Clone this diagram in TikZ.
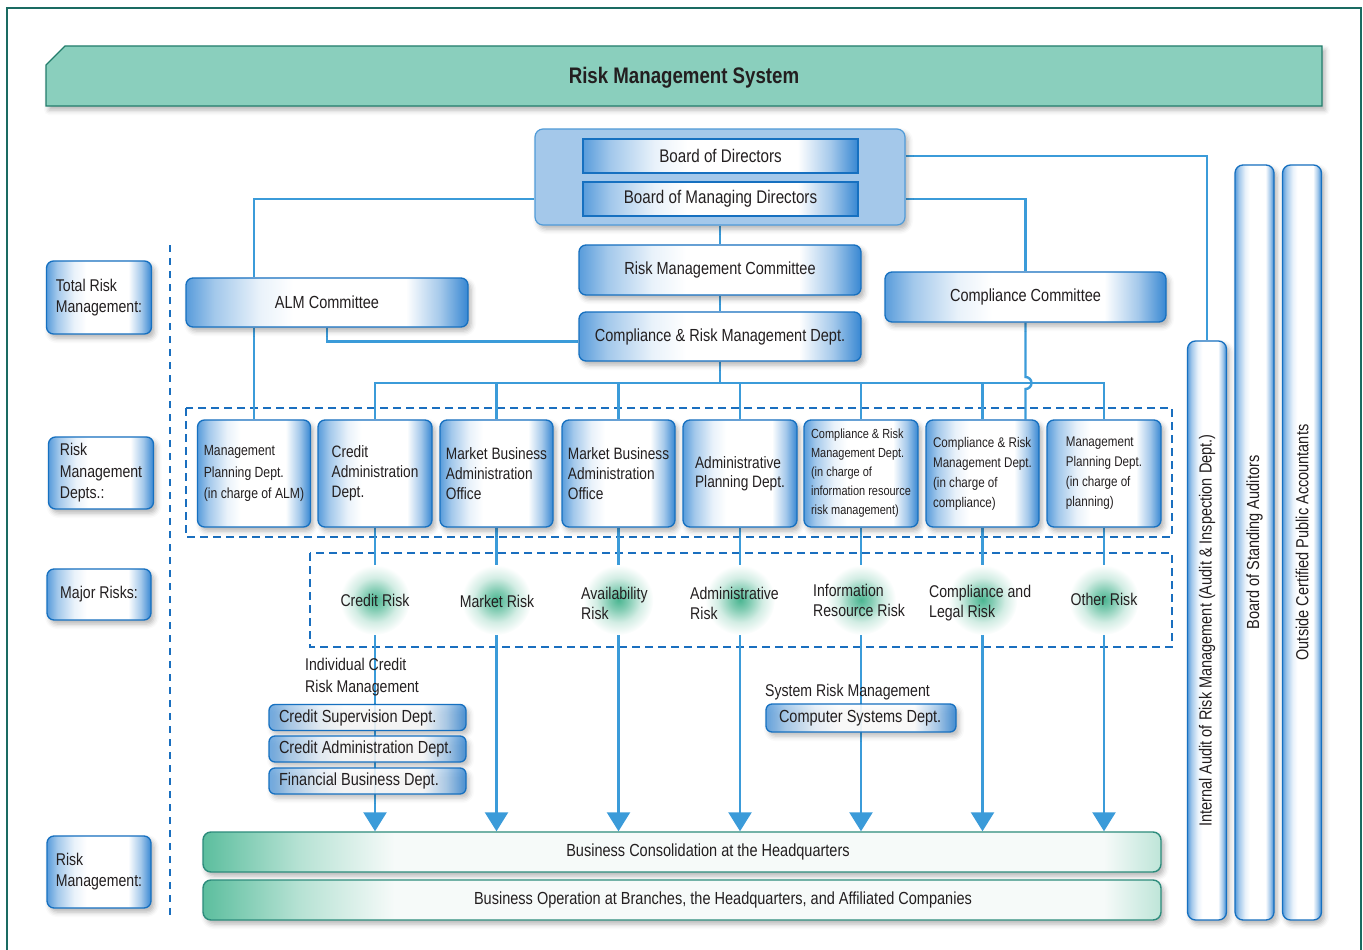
\documentclass[tikz,border=0pt]{standalone}
\usepackage{fontspec}
\setmainfont{Liberation Sans}[FakeStretch=0.83]
\usetikzlibrary{arrows.meta,shadows.blur}
\definecolor{bL}{RGB}{70,145,215}
\definecolor{bR}{RGB}{55,135,210}
\definecolor{boxline}{RGB}{22,112,192}
\definecolor{conn}{RGB}{59,155,217}
\definecolor{dashc}{RGB}{26,111,191}
\definecolor{framec}{RGB}{26,107,98}
\definecolor{bannerfill}{RGB}{138,207,189}
\definecolor{bannerline}{RGB}{35,125,108}
\definecolor{boardfill}{RGB}{164,200,234}
\definecolor{boardline}{RGB}{80,155,216}
\definecolor{tealL}{RGB}{92,190,158}
\definecolor{tealW}{RGB}{246,250,249}
\definecolor{barline}{RGB}{45,140,124}
\definecolor{glowc}{RGB}{76,182,146}
\definecolor{txt}{RGB}{35,31,32}
\pgfdeclarehorizontalshading{bluegrad}{100bp}{color(0bp)=(bL); color(25bp)=(bL!90!white); color(30bp)=(bL!50!white); color(38bp)=(bL!12!white); color(44bp)=(white); color(64bp)=(white); color(70bp)=(bR!45!white); color(75bp)=(bR); color(100bp)=(bR)}
\pgfdeclarehorizontalshading{tealgrad}{100bp}{color(0bp)=(tealL); color(25bp)=(tealL); color(30bp)=(tealL!45!white); color(35bp)=(tealW); color(72bp)=(tealW); color(75bp)=(tealL!40!white); color(100bp)=(tealL!40!white)}
\pgfdeclareradialshading{riskglow}{\pgfpoint{0bp}{0bp}}{color(0bp)=(glowc); color(7bp)=(glowc!70!white); color(16bp)=(glowc!25!white); color(25bp)=(white); color(50bp)=(white)}
\pgfdeclarelayer{bg}
\pgfsetlayers{bg,main}
\newcommand{\szM}{\fontsize{17.5}{20.5}\selectfont}
\newcommand{\szL}{\fontsize{17}{21.5}\selectfont}
\newcommand{\szDa}{\fontsize{14.7}{21.5}\selectfont}
\newcommand{\szDb}{\fontsize{16.5}{20}\selectfont}
\newcommand{\szDc}{\fontsize{13.2}{19}\selectfont}
\newcommand{\szDd}{\fontsize{14}{20}\selectfont}
\newcommand{\szR}{\fontsize{17}{20}\selectfont}
\newcommand{\szB}{\fontsize{18.3}{21}\selectfont}
\newcommand{\szT}{\fontsize{22.5}{26}\selectfont\bfseries}
\newcommand{\lbox}[2]{\makebox[#1][l]{#2}}
\tikzset{
  sh/.style={blur shadow={shadow xshift=3pt,shadow yshift=-4pt,shadow blur radius=5pt,shadow opacity=30}},
  gb/.style={rectangle, rounded corners=7pt, draw=boxline, line width=1.3pt, shading=bluegrad, inner sep=2pt},
  dept/.style={gb, sh, minimum width=113pt, minimum height=107pt, align=left},
  lab/.style={gb, sh, minimum width=105pt, align=left, font=\szL},
  comm/.style={gb, sh, minimum width=282pt, minimum height=49pt, font=\szM},
  small/.style={gb, sh, rounded corners=6pt, minimum width=197pt, minimum height=26pt, inner sep=0pt, font=\szM},
  vbar/.style={gb, sh, rounded corners=8pt, minimum width=39pt, inner sep=0pt, font=\szM},
  tbar/.style={rectangle, rounded corners=8pt, draw=barline, line width=1.4pt, shading=tealgrad, sh, minimum width=958pt, minimum height=40pt, font=\szM},
  bubble/.style={circle, minimum size=70pt, inner sep=0pt, shading=riskglow},
  risktxt/.style={font=\szR, align=left, inner sep=0pt},
  cn/.style={draw=conn, line width=2.4pt},
  ar/.style={cn, -{Triangle[width=23pt,length=19pt]}},
  dsh/.style={draw=dashc, line width=2.2pt, dash pattern=on 8pt off 5pt}
}
\begin{document}
\begin{tikzpicture}[x=1pt,y=-1pt, every node/.append style={text=txt}]
\useasboundingbox (0,0) rectangle (1363,950);
% frame
\draw[framec, line width=2.2pt] (7,8) rectangle (1361,990);
% banner
\path[fill=bannerfill, draw=bannerline, line width=1.2pt, sh] (46,65) -- (65,46) -- (1322,46) -- (1322,106) -- (46,106) -- cycle;
\node[font=\szT] (title) at (684,77.5) {Risk Management System};

% board
\node[rectangle, rounded corners=8pt, fill=boardfill, draw=boardline, line width=1.2pt, minimum width=370pt, minimum height=96pt, sh] (board) at (720,177) {};
\node[gb, sharp corners, minimum width=275pt, minimum height=34pt, font=\szB] (bod) at (720.5,156) {Board of Directors};
\node[gb, sharp corners, minimum width=275pt, minimum height=34pt, font=\szB] (bomd) at (720.5,199) {Board of Managing Directors};

% committees
\node[comm] (alm) at (327,302.5) {ALM Committee};
\node[comm, minimum height=50pt] (rmc) at (720,270) {Risk Management Committee};
\node[comm] (crm) at (720,336.5) {Compliance \& Risk Management Dept.};
\node[comm, minimum width=281pt, minimum height=50pt] (cc) at (1025.5,297) {Compliance Committee};

% left labels
\node[lab, minimum height=73pt] (l1) at (99,297.5) {Total Risk\\Management:};
\node[lab, minimum height=72pt] (l2) at (101,473) {Risk\\Management\\Depts.:};
\node[lab, minimum width=104pt, minimum height=51pt] (l3) at (99,594.5) {Major Risks:};
\node[lab, minimum width=104pt, minimum height=72pt, font=\fontsize{17}{21}\selectfont] (l4) at (99,872) {Risk\\Management:};

% departments
\node[dept, font=\szDa] (d1) at (254,473.5) {Management\\Planning Dept.\\(in charge of ALM)};
\node[dept, minimum width=114pt, font=\szDb] (d2) at (375,473.5) {Credit\\Administration\\Dept.};
\node[dept, font=\szDb] (d3) at (496.5,473.5) {Market Business\\Administration\\Office};
\node[dept, font=\szDb] (d4) at (618.5,473.5) {Market Business\\Administration\\Office};
\node[dept, minimum width=114pt, font=\fontsize{16.5}{19.5}\selectfont] (d5) at (740,473.5) {Administrative\\Planning Dept.};
\node[dept, minimum width=114pt, font=\szDc] (d6) at (861,473.5) {Compliance \& Risk\\Management Dept.\\(in charge of\\information resource\\risk management)};
\node[dept, font=\szDd] (d7) at (982.5,473.5) {Compliance \& Risk\\Management Dept.\\(in charge of\\compliance)};
\node[dept, minimum width=114pt, font=\szDd] (d8) at (1104,473.5) {Management\\Planning Dept.\\(in charge of\\planning)};

% right vertical bars
\node[vbar, minimum height=579pt] (ia) at (1207,630.5) {\rotatebox{90}{Internal Audit of Risk Management (Audit \& Inspection Dept.)}};
\node[vbar, minimum height=755pt] (sa) at (1254.5,542.5) {\rotatebox{90}{Board of Standing Auditors}};
\node[vbar, minimum height=755pt] (oc) at (1302,542.5) {\rotatebox{90}{Outside Certified Public Accountants}};

% bottom bars
\node[tbar] (bc) at (682,852) {\hspace*{52pt}Business Consolidation at the Headquarters};
\node[tbar] (bo) at (682,900) {\hspace*{82pt}Business Operation at Branches, the Headquarters, and Affiliated Companies};

\coordinate (bus) at (0,383);
\coordinate (risky) at (0,600);

% risk bubbles
\foreach \d in {2,...,8} {\node[bubble] (rb\d) at (d\d.south |- risky) {};}
\node[risktxt] (t2) at (375,600) {Credit Risk};
\node[risktxt] (t3) at (497,601) {Market Risk};
\node[risktxt, anchor=west] (t4) at (581,603) {Availability\\Risk};
\node[risktxt, anchor=west] (t5) at (690,603) {Administrative\\Risk};
\node[risktxt, anchor=west] (t6) at (813,600) {Information\\Resource Risk};
\node[risktxt, anchor=west] (t7) at (929,603) {Compliance and\\Legal Risk};
\node[risktxt] (t8) at (1104,599) {Other Risk};

% lower left
\node[font=\fontsize{17}{22}\selectfont, align=left, anchor=west, inner sep=0pt] (icr) at (305,677) {Individual Credit\\Risk Management};
\node[small, fill opacity=0.85, text opacity=1] (cs) at (367.5,717.5) {\lbox{177pt}{Credit Supervision Dept.}};
\node[small, fill opacity=0.85, text opacity=1] (ca) at (367.5,749) {\lbox{177pt}{Credit Administration Dept.}};
\node[small, fill opacity=0.85, text opacity=1] (fb) at (367.5,781) {\lbox{177pt}{Financial Business Dept.}};
\node[font=\szR, anchor=west, inner sep=0pt] (srm) at (765,692) {System Risk Management};
\node[small, fill opacity=0.9, text opacity=1, minimum width=190pt, minimum height=28pt] (csd) at (861,718) {\lbox{164pt}{Computer Systems Dept.}};

\begin{pgfonlayer}{bg}
  % dashed boxes and line
  \draw[dsh] (186,408) rectangle (1172,537);
  \draw[dsh] (310,553) rectangle (1172,647);
  \draw[dsh, dash pattern=on 7pt off 6pt] (170,245) -- (170,920);
  % board connections
  \draw[cn] (board.west |- bomd.center) -| (d1.north |- alm.north);
  \draw[cn] (d1.north |- alm.south) -- (d1.north);
  \draw[cn] (board.east |- bomd.center) -| (cc.north);
  \draw[cn] (board.east |- bod.center) -| (ia.north);
  \draw[cn] (board.south) -- (rmc.north);
  \draw[cn] (rmc.south) -- (crm.north);
  \draw[cn] (alm.south) |- ([yshift=-5pt]crm.west);
  % bus
  \draw[cn] (crm.south) -- (crm.south |- bus);
  \draw[cn] (d2.north) |- (d8.north |- bus) -- (d8.north);
  \foreach \d in {3,...,7} {\draw[cn] (d\d.north |- bus) -- (d\d.north);}
  % compliance committee with hop
  \draw[cn] (cc.south) -- ([yshift=6pt]cc.south |- bus) arc[start angle=90,end angle=-90,radius=6pt] -- (cc.south |- d7.north);
  % down arrows
  \foreach \d in {2,...,8} {\draw[ar] (d\d.south) -- (d\d.south |- bc.north);}
\end{pgfonlayer}
\end{tikzpicture}
\end{document}
